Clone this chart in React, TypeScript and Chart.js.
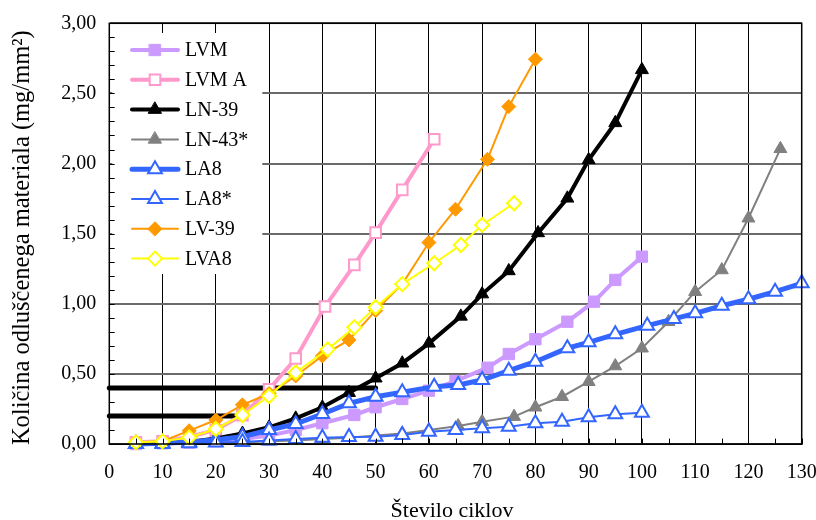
import React, { useEffect, useRef } from 'react';
import { Chart, registerables } from 'chart.js';
import { drawPoint } from 'chart.js/helpers';

Chart.register(...registerables);

const FONT = '"Liberation Serif", "Times New Roman", serif';

// ---- data ----
const lvmX = [5, 10, 15, 20, 25, 30, 35, 40, 46, 50, 55, 60, 65, 71, 75, 80, 86, 91, 95, 100];
const lvmY = [0.0, 0.005, 0.01, 0.02, 0.035, 0.06, 0.1, 0.148, 0.207, 0.262, 0.321, 0.38, 0.449, 0.544, 0.642, 0.747, 0.872, 1.015, 1.17, 1.336];

const lvmaX = [5, 10, 15, 20, 25, 30, 35, 40.5, 46, 50, 55, 61];
const lvmaY = [0.012, 0.02, 0.05, 0.1, 0.205, 0.39, 0.61, 0.98, 1.277, 1.507, 1.812, 2.173];

const ln39X = [5, 10, 15, 20, 25, 30, 35, 40, 45, 50, 55, 60, 66, 70, 75, 80.5, 86, 90, 95, 100];
const ln39Y = [0, 0.005, 0.015, 0.04, 0.075, 0.119, 0.183, 0.262, 0.366, 0.469, 0.576, 0.718, 0.91, 1.069, 1.234, 1.505, 1.752, 2.026, 2.29, 2.668];

const ln43X = [5, 10, 15, 20, 25, 30, 35, 40, 45, 50, 55, 60, 65.5, 70, 76, 80, 85, 90, 95, 100, 105, 110, 115, 120, 126];
const ln43Y = [0, 0, 0.005, 0.01, 0.01, 0.02, 0.025, 0.035, 0.045, 0.06, 0.075, 0.1, 0.128, 0.159, 0.195, 0.262, 0.337, 0.444, 0.556, 0.683, 0.872, 1.086, 1.241, 1.61, 2.105];

const la8X = [5, 10, 15, 20, 25, 30, 35, 40, 45, 50, 55, 61, 65.5, 70, 75, 80, 86, 90, 95, 101, 106, 110, 115, 120, 125, 130];
const la8Y = [0, 0.005, 0.015, 0.03, 0.052, 0.1, 0.143, 0.214, 0.29, 0.337, 0.369, 0.409, 0.421, 0.456, 0.523, 0.587, 0.683, 0.725, 0.782, 0.844, 0.892, 0.932, 0.986, 1.032, 1.086, 1.146];

const la8sX = [5, 10, 15, 20, 25, 30, 35, 40, 45, 50, 55, 60, 65, 70, 75, 80, 85, 90, 95, 100];
const la8sY = [0, 0, 0.005, 0.01, 0.015, 0.025, 0.035, 0.045, 0.05, 0.052, 0.064, 0.087, 0.1, 0.112, 0.123, 0.148, 0.159, 0.19, 0.212, 0.223];

const lv39X = [5, 10, 15, 20, 25, 30, 35, 40, 45, 50, 55, 60, 65, 71, 75, 80];
const lv39Y = [0.01, 0.02, 0.095, 0.171, 0.279, 0.36, 0.485, 0.628, 0.742, 0.951, 1.14, 1.437, 1.674, 2.03, 2.406, 2.744];

const lva8X = [5, 10, 15, 20, 25, 30, 35, 41, 46, 50, 55, 61, 66, 70, 76];
const lva8Y = [0.012, 0.019, 0.047, 0.107, 0.207, 0.342, 0.51, 0.675, 0.832, 0.975, 1.14, 1.289, 1.419, 1.562, 1.717];

const refUpperX = [0, 50];
const refUpperY = [0.4, 0.4];
const refLowerX = [0, 23.5];
const refLowerY = [0.2, 0.2];

const yTickLabels = ['0,00', '0,50', '1,00', '1,50', '2,00', '2,50', '3,00'];
const xTickLabels = ['0', '10', '20', '30', '40', '50', '60', '70', '80', '90', '100', '110', '120', '130'];

const xTitle = 'Število ciklov';
const yTitle = 'Količina odluščenega materiala (mg/mm²)';

const pts = (xs: number[], ys: number[]) => xs.map((x, i) => ({ x, y: ys[i] }));

type S = {
  label: string; xs: number[]; ys: number[]; color: string; width: number;
  style: string; radius: number; fill: string; pbw: number;
};

const series: S[] = [
  { label: 'LVM', xs: lvmX, ys: lvmY, color: '#CC99FF', width: 4, style: 'rect', radius: 8, fill: '#CC99FF', pbw: 1 },
  { label: 'LVM A', xs: lvmaX, ys: lvmaY, color: '#FF99CC', width: 4, style: 'rect', radius: 7.5, fill: '#FFFFFF', pbw: 2 },
  { label: 'LN-39', xs: ln39X, ys: ln39Y, color: '#000000', width: 4, style: 'triangle', radius: 7.5, fill: '#000000', pbw: 1 },
  { label: 'LN-43*', xs: ln43X, ys: ln43Y, color: '#808080', width: 2, style: 'triangle', radius: 7.5, fill: '#808080', pbw: 1 },
  { label: 'LA8', xs: la8X, ys: la8Y, color: '#3366FF', width: 5, style: 'triangle', radius: 8, fill: '#FFFFFF', pbw: 2 },
  { label: 'LA8*', xs: la8sX, ys: la8sY, color: '#3366FF', width: 2, style: 'triangle', radius: 8, fill: '#FFFFFF', pbw: 2 },
  { label: 'LV-39', xs: lv39X, ys: lv39Y, color: '#FF9900', width: 2, style: 'rectRot', radius: 7, fill: '#FF9900', pbw: 1 },
  { label: 'LVA8', xs: lva8X, ys: lva8Y, color: '#FFFF00', width: 2, style: 'rectRot', radius: 7, fill: '#FFFFFF', pbw: 2 },
];

const decor = {
  id: 'decor',
  afterDatasetsDraw(chart: any) {
    const { ctx, chartArea: a, scales } = chart;
    const xs = scales.x;
    const ys = scales.y;
    ctx.save();
    // legend
    ctx.fillStyle = '#FFFFFF';
    ctx.fillRect(a.left + 3, 33, 150, 241);
    series.forEach((s, i) => {
      const y = 50 + i * 29.8;
      ctx.beginPath();
      ctx.strokeStyle = s.color;
      ctx.lineWidth = s.width;
      ctx.lineCap = 'round';
      ctx.moveTo(132, y);
      ctx.lineTo(178, y);
      ctx.stroke();
      ctx.fillStyle = s.fill;
      ctx.strokeStyle = s.color;
      ctx.lineWidth = s.pbw;
      drawPoint(ctx, { pointStyle: s.style, radius: s.radius, rotation: 0, borderWidth: s.pbw } as any, 155, y);
      ctx.fillStyle = '#000';
      ctx.font = `20px ${FONT}`;
      ctx.textAlign = 'left';
      ctx.textBaseline = 'middle';
      ctx.fillText(s.label, 185, y + 1);
    });
    // minor ticks
    ctx.strokeStyle = '#000';
    ctx.lineWidth = 1;
    ctx.beginPath();
    for (let v = 0; v <= 3.0001; v += 0.1) {
      const py = Math.round(ys.getPixelForValue(v)) + 0.5;
      ctx.moveTo(a.left, py);
      ctx.lineTo(a.left + 5, py);
    }
    for (let v = 0; v <= 130; v += 5) {
      const px = Math.round(xs.getPixelForValue(v)) + 0.5;
      ctx.moveTo(px, a.bottom);
      ctx.lineTo(px, a.bottom - 5);
    }
    ctx.stroke();
    // frame
    ctx.strokeStyle = '#000';
    ctx.lineWidth = 1.5;
    ctx.strokeRect(a.left, a.top, a.right - a.left, a.bottom - a.top);
    ctx.restore();
  },
  afterDraw(chart: any) {
    const { ctx, chartArea: a } = chart;
    ctx.save();
    ctx.fillStyle = '#000';
    ctx.textAlign = 'center';
    ctx.textBaseline = 'middle';
    ctx.font = `22px ${FONT}`;
    ctx.fillText(xTitle, 452, 511);
    ctx.translate(23, (a.top + a.bottom) / 2 + 4);
    ctx.rotate(-Math.PI / 2);
    ctx.font = `24.5px ${FONT}`;
    ctx.fillText(yTitle, 0, 0);
    ctx.restore();
  },
};

export default function App() {
  const ref = useRef<HTMLCanvasElement | null>(null);
  useEffect(() => {
    if (!ref.current) return;
    const n = series.length;
    const datasets: any[] = series.map((s, i) => ({
      label: s.label,
      data: pts(s.xs, s.ys),
      borderColor: s.color,
      borderWidth: s.width,
      backgroundColor: s.fill,
      pointStyle: s.style,
      pointRadius: s.radius,
      pointHoverRadius: s.radius,
      pointBackgroundColor: s.fill,
      pointBorderColor: s.color,
      pointBorderWidth: s.pbw,
      tension: 0,
      fill: false,
      clip: false,
      order: n - i,
    }));
    [[refUpperX, refUpperY], [refLowerX, refLowerY]].forEach(([xs, ys]) => {
      datasets.push({
        label: '',
        data: pts(xs, ys),
        borderColor: '#000',
        borderWidth: 5,
        borderCapStyle: 'round',
        pointRadius: 0,
        tension: 0,
        fill: false,
        clip: false,
        order: 20,
      });
    });
    const chart = new Chart(ref.current, {
      type: 'line',
      data: { datasets },
      plugins: [decor],
      options: {
        animation: false,
        responsive: false,
        devicePixelRatio: 1,
        layout: { padding: { left: 0, right: 14.3, top: 23.3, bottom: 0 } },
        plugins: { legend: { display: false }, tooltip: { enabled: false } },
        scales: {
          x: {
            type: 'linear',
            min: 0,
            max: 130,
            ticks: {
              stepSize: 10,
              padding: 17,
              color: '#000',
              font: { family: FONT, size: 20 },
              maxRotation: 0,
              callback: (v: any) => xTickLabels[Math.round(Number(v) / 10)] ?? '',
            },
            grid: { color: '#000', lineWidth: 1, drawTicks: false },
            border: { display: true, color: '#000', width: 1 },
            afterFit: (s: any) => { s.height = 76; s.paddingLeft = 0; s.paddingRight = 0; },
          },
          y: {
            type: 'linear',
            min: 0,
            max: 3,
            ticks: {
              stepSize: 0.5,
              padding: 13,
              color: '#000',
              font: { family: FONT, size: 20 },
              callback: (v: any) => yTickLabels[Math.round(Number(v) / 0.5)] ?? '',
            },
            grid: { color: '#6A6A6A', lineWidth: 2, drawTicks: false },
            border: { display: true, color: '#000', width: 1 },
            afterFit: (s: any) => { s.width = 109.3; s.paddingTop = 0; s.paddingBottom = 0; },
          },
        },
      } as any,
    });
    return () => chart.destroy();
  }, []);
  return (
    <div style={{ position: 'absolute', left: 0, top: 0, width: 816, height: 520, background: '#fff' }}>
      <canvas ref={ref} width={816} height={520} style={{ display: 'block' }} />
    </div>
  );
}
